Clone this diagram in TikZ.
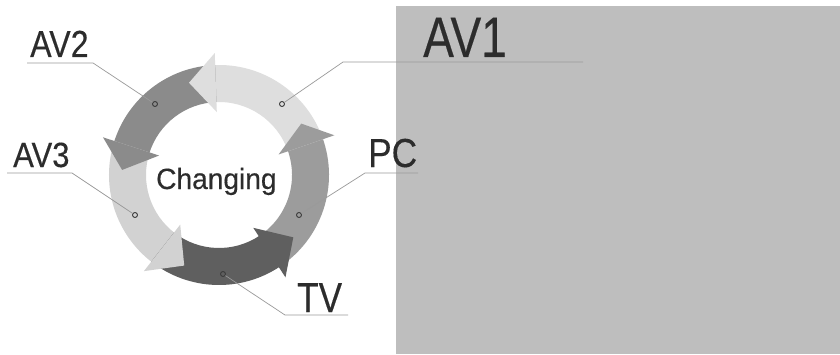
\documentclass[tikz,border=0pt]{standalone}
\usepackage{fontspec}
\setmainfont{Liberation Sans}
\newfontfamily\narrowfont[FakeStretch=0.82, FakeBold=0.3]{Liberation Sans}
\newfontfamily\heavyfont[FakeBold=0.3]{Liberation Sans}
\usepackage{graphicx}
\usetikzlibrary{calc}
\definecolor{rectgray}{HTML}{BEBEBE}
\definecolor{txtc}{HTML}{2C2C2C}
\definecolor{leadc}{HTML}{9A9A9A}
\definecolor{dotc}{HTML}{3C3C3C}
\definecolor{cAVone}{HTML}{DEDEDE}
\definecolor{cAVtwo}{HTML}{8B8B8B}
\definecolor{cAVthree}{HTML}{D2D2D2}
\definecolor{cTV}{HTML}{5F5F5F}
\definecolor{cPC}{HTML}{9C9C9C}
\newcommand\ringseg[3]{% color, start angle, end angle
  \fill[#1] ($(C)+(#2:110)$) arc[start angle=#2, end angle=#3, radius=110]
    -- ($(C)+(#3:73)$) arc[start angle=#3, end angle=#2, radius=73] -- cycle;}
\newcommand\ringhead[3]{% color, base angle, tip angle
  \fill[#1] ($(C)+(#2-1:122)$) -- ($(C)+(#3:97)$) -- ($(C)+(#2-1:63)$) -- cycle;}
\tikzset{
  lbl/.style={inner sep=0pt, anchor=base west, text=txtc},
  leader/.style={draw=leadc, line width=0.7pt},
  ringdot/.style={circle, draw=dotc, line width=0.9pt, minimum size=5pt, inner sep=0pt}
}
\begin{document}
\begin{tikzpicture}[x=1pt,y=1pt]
\useasboundingbox (0,0) rectangle (840,354);
\fill[white] (0,0) rectangle (840,354);
\fill[rectgray] (396,0) rectangle (840,348);
\coordinate (C) at (219,179);
% bands
\ringseg{cPC}{303}{380}
\ringseg{cAVone}{19}{93}
\ringseg{cAVtwo}{92}{163}
\ringseg{cAVthree}{162}{233}
\ringseg{cTV}{232}{304}
% heads
\ringhead{cPC}{20}{32}
\ringhead{cAVone}{93}{108}
\ringhead{cAVtwo}{163}{177}
\ringhead{cAVthree}{233}{249}
\ringhead{cTV}{304}{320}
% center text
\node[lbl] (chg) at (156,165) {\heavyfont\fontsize{29.3}{32}\selectfont\scalebox{0.96}[1]{Changing}};
% dots
\node[ringdot, fill=cAVone] (dAVone) at (282,250) {};
\node[ringdot, fill=cAVtwo] (dAVtwo) at (155,250) {};
\node[ringdot, fill=cAVthree] (dAVthree) at (135,139) {};
\node[ringdot, fill=cPC] (dPC) at (299,139) {};
\node[ringdot, fill=cTV] (dTV) at (223,80) {};
% leader coordinates
\coordinate (kAVone) at (343,292); \coordinate (eAVone) at (583,292);
\coordinate (kAVtwo) at (93,291);  \coordinate (eAVtwo) at (27,291);
\coordinate (kAVthree) at (72,181); \coordinate (eAVthree) at (7,181);
\coordinate (kPC) at (365,181); \coordinate (ePC) at (418,181);
\coordinate (kTV) at (285,39); \coordinate (eTV) at (348,39);
\draw[leader] (dAVone) -- (kAVone) -- (eAVone);
\draw[leader] (dAVtwo) -- (kAVtwo) -- (eAVtwo);
\draw[leader] (dAVthree) -- (kAVthree) -- (eAVthree);
\draw[leader] (dPC) -- (kPC) -- (ePC);
\draw[leader] (dTV) -- (kTV) -- (eTV);
% labels
\node[lbl] (lAVone) at (423,297) {\narrowfont\fontsize{57}{60}\selectfont\scalebox{0.985}[1]{AV1}};
\node[lbl] (lAVtwo) at (30,297) {\narrowfont\fontsize{37.7}{40}\selectfont\scalebox{1.04}[1]{AV2}};
\node[lbl] (lAVthree) at (13,187) {\narrowfont\fontsize{35}{38}\selectfont\scalebox{1.08}[1]{AV3}};
\node[lbl] (lPC) at (368,187) {\narrowfont\fontsize{40.5}{43}\selectfont\scalebox{1.06}[1]{PC}};
\node[lbl] (lTV) at (297,42) {\narrowfont\fontsize{42}{45}\selectfont\scalebox{1.02}[1]{TV}};
\end{tikzpicture}
\end{document}
